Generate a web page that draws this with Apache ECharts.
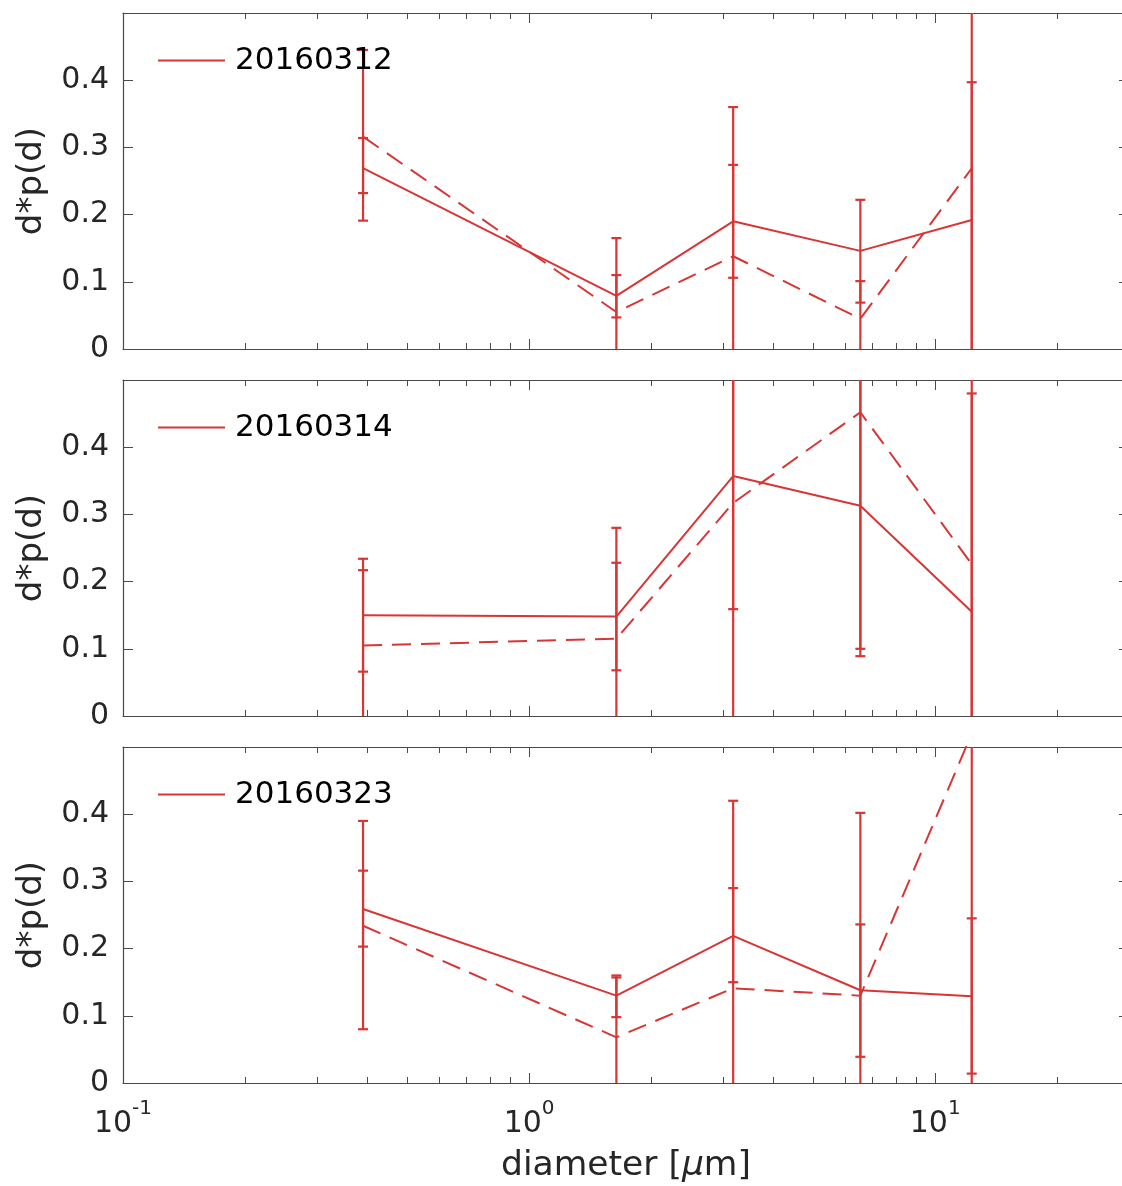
<!DOCTYPE html>
<html>
<head>
<meta charset="utf-8">
<script src="https://cdn.jsdelivr.net/npm/echarts@6/dist/echarts.min.js"></script>
<style>
  html, body { margin: 0; padding: 0; overflow: hidden; background: #fff; }
  #chart { width: 1130px; height: 1186px; }
</style>
</head>
<body>
<div id="chart"></div>
<script>
// Particle size bins (µm)
const diameters = [0.39, 1.64, 3.18, 6.54, 12.3];
const dates = ['20160312', '20160314', '20160323'];

// d*p(d) per day: solid and dashed estimates
const solid0312  = [0.269, 0.079, 0.190, 0.146, 0.192];
const dashed0312 = [0.316, 0.055, 0.138, 0.045, 0.269];
const solid0314  = [0.150, 0.148, 0.357, 0.313, 0.155];
const dashed0314 = [0.105, 0.115, 0.317, 0.452, 0.226];
const solid0323  = [0.259, 0.130, 0.219, 0.138, 0.129];
const dashed0323 = [0.234, 0.068, 0.141, 0.130, 0.520];

// Error bar bounds [low, high] per bin
const solidErr0312  = [[0.191, 0.314], [-0.05, 0.165], [-0.10, 0.360], [0.069, 0.222], [-0.05, 0.397]];
const dashedErr0312 = [[0.232, 0.445], [0.047, 0.110], [0.106, 0.274], [-0.10, 0.101], [-0.30, 0.800]];
const solidErr0314  = [[0.066, 0.234], [-0.05, 0.280], [0.159, 0.600], [0.100, 0.600], [-0.10, 0.480]];
const dashedErr0314 = [[-0.05, 0.217], [0.068, 0.228], [-0.10, 0.700], [0.089, 0.800], [-0.20, 0.700]];
const solidErr0323  = [[0.080, 0.390], [0.098, 0.160], [0.150, 0.420], [0.039, 0.402], [0.014, 0.245]];
const dashedErr0323 = [[0.203, 0.316], [-0.05, 0.157], [-0.05, 0.290], [-0.10, 0.236], [-0.30, 1.000]];

// Axis ticks
const xMajorTicks = [0.1, 1, 10];
const xMinorTicks = [0.2, 0.3, 0.4, 0.5, 0.6, 0.7, 0.8, 0.9, 2, 3, 4, 5, 6, 7, 8, 9, 20, 30];
const yTicks = [0, 0.1, 0.2, 0.3, 0.4];

const panels = [
  { date: dates[0], solid: solid0312, dashed: dashed0312, solidErr: solidErr0312, dashedErr: dashedErr0312 },
  { date: dates[1], solid: solid0314, dashed: dashed0314, solidErr: solidErr0314, dashedErr: dashedErr0314 },
  { date: dates[2], solid: solid0323, dashed: dashed0323, solidErr: solidErr0323, dashedErr: dashedErr0323 }
];

const RED = '#d83535';
const AXIS = '#4a4a4a';
const TEXT = '#262626';
const FONT = 'DejaVu Sans';
const gridTops = [13, 380, 747];
const gridLeft = 123, gridWidth = 1006, gridHeight = 336;

function renderErrorBar(params, api) {
  const x = api.value(0);
  const lo = api.coord([x, api.value(1)]);
  const hi = api.coord([x, api.value(2)]);
  const w = 5;
  const style = { stroke: RED, lineWidth: 2.2, fill: null };
  return {
    type: 'group',
    children: [
      { type: 'line', shape: { x1: lo[0], y1: lo[1], x2: hi[0], y2: hi[1] }, style },
      { type: 'line', shape: { x1: lo[0] - w, y1: lo[1], x2: lo[0] + w, y2: lo[1] }, style },
      { type: 'line', shape: { x1: hi[0] - w, y1: hi[1], x2: hi[0] + w, y2: hi[1] }, style }
    ]
  };
}

const grid = [], xAxis = [], yAxis = [], series = [], legend = [];

panels.forEach((p, g) => {
  grid.push({ left: gridLeft, top: gridTops[g], width: gridWidth, height: gridHeight });
  const isLast = g === panels.length - 1;
  const logBase = { type: 'log', logBase: 10, min: 0.1, max: 30, gridIndex: g, splitLine: { show: false }, minorTick: { show: false } };

  // bottom: major ticks + labels
  xAxis.push(Object.assign({}, logBase, {
    position: 'bottom',
    axisLine: { show: true, lineStyle: { color: AXIS, width: 1.2 } },
    axisTick: { show: true, inside: true, length: 10, customValues: xMajorTicks, lineStyle: { color: AXIS } },
    axisLabel: {
      show: isLast, customValues: xMajorTicks, margin: 16,
      formatter: v => '{b|10}{s|' + Math.round(Math.log10(v)) + '}',
      rich: {
        b: { fontFamily: FONT, fontSize: 30, color: TEXT, verticalAlign: 'bottom', lineHeight: 40 },
        s: { fontFamily: FONT, fontSize: 20, color: TEXT, verticalAlign: 'top', lineHeight: 40 }
      }
    },
    name: isLast ? '{a|diameter [}{m|μ}{a|m]}' : '',
    nameLocation: 'middle', nameGap: 66,
    nameTextStyle: {
      rich: {
        a: { fontFamily: FONT, fontSize: 34.5, color: TEXT },
        m: { fontFamily: FONT, fontSize: 34.5, color: TEXT, fontStyle: 'italic' }
      }
    }
  }));
  // bottom: minor ticks
  xAxis.push(Object.assign({}, logBase, {
    position: 'bottom',
    axisLine: { show: false },
    axisTick: { show: true, inside: true, length: 6, customValues: xMinorTicks, lineStyle: { color: AXIS } },
    axisLabel: { show: false }
  }));
  // top: major ticks
  xAxis.push(Object.assign({}, logBase, {
    position: 'top',
    axisLine: { show: true, lineStyle: { color: AXIS, width: 1.2 } },
    axisTick: { show: true, inside: true, length: 10, customValues: xMajorTicks, lineStyle: { color: AXIS } },
    axisLabel: { show: false }
  }));
  // top: minor ticks
  xAxis.push(Object.assign({}, logBase, {
    position: 'top',
    axisLine: { show: false },
    axisTick: { show: true, inside: true, length: 6, customValues: xMinorTicks, lineStyle: { color: AXIS } },
    axisLabel: { show: false }
  }));

  const yBase = { type: 'value', min: 0, max: 0.5, interval: 0.1, gridIndex: g, splitLine: { show: false } };
  yAxis.push(Object.assign({}, yBase, {
    position: 'left',
    axisLine: { show: true, lineStyle: { color: AXIS, width: 1.2 } },
    axisTick: { show: true, inside: true, length: 10, lineStyle: { color: AXIS } },
    axisLabel: {
      fontFamily: FONT, fontSize: 30, color: TEXT, margin: 14,
      formatter: v => {
        const r = Math.round(v * 10) / 10;
        if (yTicks.indexOf(r) < 0) return '';
        return r === 0 ? '0' : r.toFixed(1);
      }
    },
    name: 'd*p(d)', nameLocation: 'middle', nameRotate: 90, nameGap: 74,
    nameTextStyle: { fontFamily: FONT, fontSize: 34, color: TEXT }
  }));
  yAxis.push(Object.assign({}, yBase, {
    position: 'right',
    axisLine: { show: true, lineStyle: { color: AXIS, width: 1.2 } },
    axisTick: { show: true, inside: true, length: 10, lineStyle: { color: AXIS } },
    axisLabel: { show: false }
  }));

  const xi = g * 4, yi = g * 2;
  const errRows = errs => diameters.map((d, i) => [d, errs[i][0], errs[i][1]]);

  series.push({
    type: 'custom', name: p.date + ' solid error', xAxisIndex: xi, yAxisIndex: yi,
    renderItem: renderErrorBar, clip: true, encode: { x: 0, y: [1, 2] },
    data: errRows(p.solidErr), z: 3
  });
  series.push({
    type: 'custom', name: p.date + ' dashed error', xAxisIndex: xi, yAxisIndex: yi,
    renderItem: renderErrorBar, clip: true, encode: { x: 0, y: [1, 2] },
    data: errRows(p.dashedErr), z: 3
  });
  series.push({
    type: 'line', name: p.date, xAxisIndex: xi, yAxisIndex: yi,
    data: diameters.map((d, i) => [d, p.solid[i]]),
    symbol: 'none', clip: true, color: RED,
    lineStyle: { color: RED, width: 2 }, z: 4
  });
  series.push({
    type: 'line', name: p.date + ' dashed', xAxisIndex: xi, yAxisIndex: yi,
    data: diameters.map((d, i) => [d, p.dashed[i]]),
    symbol: 'none', clip: true, color: RED,
    lineStyle: { color: RED, width: 2, type: [19, 10] }, z: 4
  });

  legend.push({
    data: [p.date], left: 158, top: gridTops[g] + 32,
    padding: 0, icon: 'rect', itemWidth: 67, itemHeight: 2,
    selectedMode: false,
    itemStyle: { color: RED },
    textStyle: { fontFamily: FONT, fontSize: 31, color: '#000', padding: [0, 0, 0, 5] }
  });
});

const chart = echarts.init(document.getElementById('chart'), null, { renderer: 'canvas' });
chart.setOption({
  animation: false,
  backgroundColor: '#fff',
  grid, xAxis, yAxis, series, legend
});
</script>
</body>
</html>
